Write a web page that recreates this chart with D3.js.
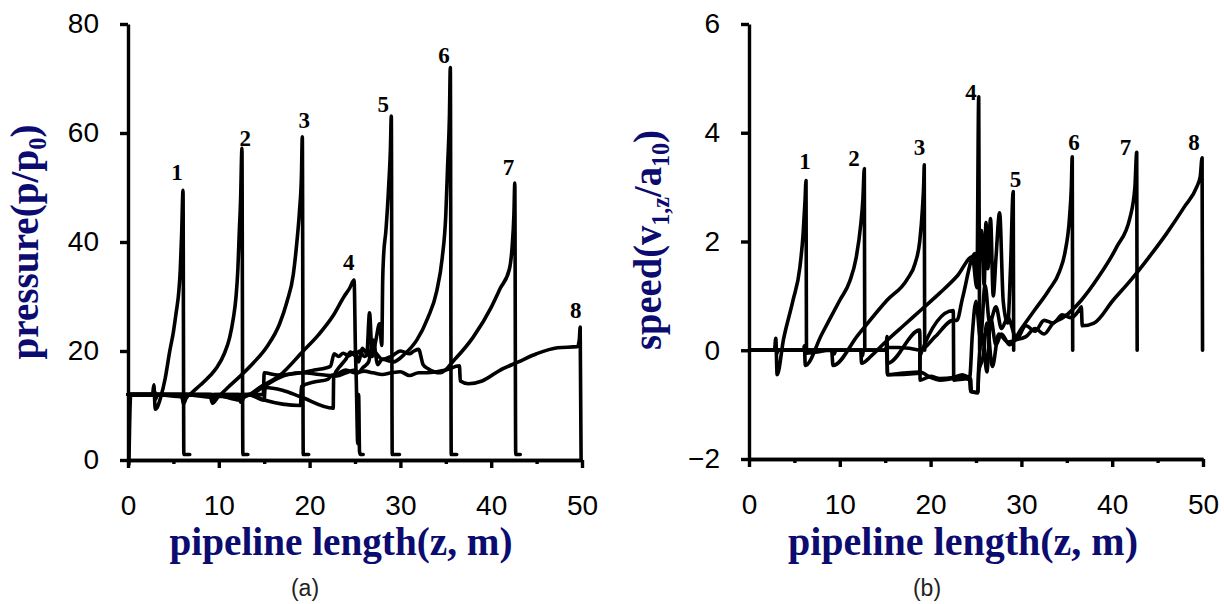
<!DOCTYPE html>
<html lang="en">
<head>
<meta charset="utf-8">
<title>Pressure and speed along the pipeline</title>
<script src="https://d3js.org/d3.v7.min.js"></script>
<style>
	body { margin: 0; background: #fff; }
	.axis path, .axis line { fill: none; stroke: #000; stroke-width: 3.4; }
	.axis text { font-family: "Liberation Sans", Arial, sans-serif; font-size: 28px; fill: #000; }
	.curve { fill: none; stroke: #000; stroke-width: 3.6; stroke-linejoin: round; stroke-linecap: round; }
	.title { font-family: "Liberation Serif", "Times New Roman", serif; font-weight: bold; font-size: 40px; fill: #0b0b70; }
	.tag { font-family: "Liberation Serif", "Times New Roman", serif; font-weight: bold; font-size: 23px; fill: #000; }
	.caption { font-family: "Liberation Sans", Arial, sans-serif; font-size: 23px; fill: #222; }
</style>
</head>
<body>
<script>
	// ---- data: [z (m), value] ----
	var zTicks = [0, 10, 20, 30, 40, 50];
	var zMinor = [5, 15, 25, 35, 45];
	var pressTicks = [0, 20, 40, 60, 80];
	var speedTicks = [-2, 0, 2, 4, 6];
	var curveNames = ["1", "2", "3", "4", "5", "6", "7", "8"];

	// pressure p/p0
	var press1 = [[0,12],[2.7,12],[2.85,13.8],[3.0,9.3],[3.2,9.6],[3.6,11.5],[4.1,15],[4.6,20],[5.0,23.5],[5.3,27],[5.6,31],[5.76,35],[5.91,41.6],[6.06,49.5],[6.15,1],[6.8,1]];
	var press2 = [[0,12],[2.8,12],[2.9,12.8],[3.05,11.2],[3.2,12],[5.9,12],[6.1,10.3],[6.4,11.3],[7.0,12.3],[8.0,13.8],[9.0,15.4],[9.8,17],[10.6,19.5],[11.2,22.5],[11.6,26],[11.9,30],[12.1,35],[12.25,41.6],[12.4,47.7],[12.55,57.2],[12.65,1],[13.2,1]];
	var press3 = [[0,12],[2.8,12],[2.9,12.6],[3.05,11.4],[3.2,12],[5.9,12],[6.1,10.8],[6.3,12],[9.0,12],[9.3,10.4],[9.9,11.5],[11,13.3],[12.3,15.3],[13.8,17.8],[15.3,20.8],[16.7,25],[17.5,29],[18.2,34],[18.6,40],[18.9,46],[19.1,52],[19.2,59.3],[19.3,1],[19.9,1]];
	var press4 = [[0,12],[2.9,12],[3.0,11.5],[3.1,12],[6.0,12],[6.1,11],[6.3,12],[9.2,12],[9.4,11],[9.7,12],[12.2,12],[12.4,10.6],[12.8,11.5],[13.4,12],[14.5,13.3],[16.7,15.5],[19.3,20],[21,23],[22.6,26.5],[23.8,30],[24.4,31.5],[24.9,33],[25.05,20],[25.15,14],[25.3,3],[25.4,12],[25.5,1.5],[25.6,1],[25.9,1]];
	var press5 = [[0,12],[3,12],[6.0,12],[6.1,11.5],[6.3,12],[9.3,11.5],[9.5,12],[12.3,11],[12.6,12],[14.9,12],[15.0,16],[16.5,15.6],[19,16],[20.5,16.5],[22.3,17.2],[22.7,19.5],[23.2,19],[23.7,19.6],[24.3,19.1],[25,19.8],[25.4,18],[25.8,20.5],[26.3,19.5],[26.6,27],[26.9,19],[27.3,22],[27.7,25],[27.95,21],[28.05,33],[28.15,37.5],[28.4,42],[28.7,50],[28.9,57],[29.0,63.1],[29.1,1],[29.9,1]];
	var press6 = [[0,12],[3,12],[6.1,11.6],[6.3,12],[12.4,11.5],[13.3,12],[15,11],[19,10],[19.1,13.5],[20.5,14.3],[22,14.8],[22.5,15.6],[23,15.4],[24,16],[25,16.5],[25.3,16],[25.9,17],[26.5,18],[27,22],[27.5,17.5],[28,18.5],[29.2,18],[30.5,19.5],[31.8,22],[33,26],[34,31],[34.6,37],[35.0,45],[35.2,54],[35.4,63],[35.5,72],[35.6,1],[36.2,1]];
	var press7 = [[0,12],[3,12],[12.4,11.8],[13.3,12],[15,11],[15.1,13.3],[17,12.8],[19,11.6],[22.6,9.5],[22.65,15.2],[23.5,17.5],[24,18.5],[24.5,19.8],[25,19.2],[25.5,20],[26,19],[27,20],[28,18.5],[29,19],[30,20],[31,19.5],[31.5,20],[32,20.3],[32.5,17.5],[33,16.8],[34.4,16],[36,18.5],[38,22.5],[40,28],[41,31.5],[42,35],[42.3,39],[42.5,45],[42.6,50.8],[42.7,1],[43.2,1]];
	var press8 = [[0.1,-0.8],[0.3,12],[3,12],[13.3,12],[15,13.5],[16.5,15],[19,16],[22.6,15.5],[24,16.5],[25,16],[26,16.3],[27,16],[28,15.7],[29,16],[30,16.2],[31,15.5],[32,16],[33,16],[34,16.2],[35,16.5],[36.5,17.3],[36.6,14.5],[37.5,14],[39,14.5],[41,16.5],[43,18],[45,19.5],[47.3,20.6],[49.5,20.8],[49.7,22],[49.8,24.4],[49.9,0]];

	// speed v1,z/a10
	var speed1 = [[0,0],[2.8,0],[2.95,0.22],[3.1,-0.45],[3.8,0.2],[4.85,0.92],[5.6,1.52],[5.96,2.14],[6.17,2.75],[6.28,3.12],[6.33,0]];
	var speed2 = [[0,0],[2.9,0],[3.0,0.06],[3.1,-0.05],[3.2,0],[6.0,0],[6.1,0.08],[6.2,-0.28],[8,0.29],[10,0.92],[11.1,1.27],[11.8,1.7],[12.3,2.3],[12.55,2.8],[12.7,3.34],[12.75,0]];
	var speed3 = [[0,0],[6.1,0],[6.2,0.05],[6.35,-0.05],[9.1,0],[9.25,-0.28],[12,0.28],[15.2,0.92],[17.4,1.3],[18.3,1.6],[18.8,2.0],[19.1,2.6],[19.25,3.1],[19.3,3.41],[19.35,0]];
	var speed4 = [[0,0],[6.2,0],[6.3,-0.06],[6.4,0],[9.3,0],[9.4,-0.07],[9.55,0],[12.3,0],[12.4,-0.24],[13.5,-0.1],[15.2,0.18],[17,0.45],[19,0.75],[21,1.05],[23,1.38],[24.6,1.72],[25.1,1.15],[25.3,4.66],[25.4,0]];
	var speed5 = [[0,0],[12.4,0],[12.5,-0.1],[12.6,0],[15.1,0],[15.2,0.25],[15.25,-0.24],[18.8,0.37],[18.85,0.0],[20.5,0.25],[22.5,0.55],[22.9,0.55],[23.5,0.95],[24.9,1.78],[25.2,1.3],[25.6,2.2],[25.9,1.2],[26.1,2.35],[26.3,1.5],[26.6,2.42],[26.9,1.0],[27.2,1.7],[27.6,2.53],[28.0,0.9],[28.5,0.5],[28.8,1.5],[29.1,2.92],[29.15,0]];
	var speed6 = [[0,0],[15.1,0],[15.2,-0.1],[15.25,-0.45],[18.8,-0.42],[18.85,-0.1],[22.5,0.73],[22.55,-0.55],[24.4,-0.52],[24.5,-0.76],[25.2,-0.78],[25.3,-0.3],[25.7,0.3],[26.2,-0.4],[26.6,0.6],[27.2,0.1],[27.8,0.3],[28.7,0.1],[30,0.4],[31.5,0.75],[33,1.1],[34.2,1.45],[34.8,1.8],[35.3,2.44],[35.5,3.0],[35.6,3.56],[35.65,0]];
	var speed7 = [[0,0],[14.9,0],[15.2,0.05],[16.5,0.05],[18.8,0],[18.85,-0.55],[20,-0.48],[21,-0.52],[22.5,-0.5],[23.5,-0.45],[24.3,-0.5],[24.6,0.3],[25.0,0.9],[25.5,0.2],[26.0,1.2],[26.5,0.5],[27.2,0.8],[27.8,0.4],[28.5,0.6],[29.5,0.2],[30.5,0.25],[31.5,0.4],[32.5,0.3],[33.5,0.5],[34.6,0.6],[36.6,0.92],[38.5,1.35],[40.5,1.9],[41.96,2.44],[42.5,3.0],[42.7,3.64],[42.75,0]];
	var speed8 = [[0,0],[15.1,0],[15.2,-0.05],[15.25,-0.45],[17,-0.42],[18.8,-0.4],[20,-0.5],[21,-0.55],[22.5,-0.52],[23.5,-0.5],[24.3,-0.55],[24.4,-0.76],[25.2,-0.78],[25.3,-0.4],[25.8,-0.1],[26.2,0.5],[26.8,-0.3],[27.5,0.3],[28.5,0.15],[29.5,0.2],[30.5,0.45],[31.5,0.35],[32.5,0.55],[33.5,0.5],[34.5,0.65],[35.5,0.6],[36.4,0.75],[36.6,0.8],[36.7,0.45],[38,0.5],[40.1,0.92],[42,1.28],[44,1.7],[46,2.15],[48,2.65],[49.3,3.0],[49.7,3.2],[49.9,3.54],[49.95,0]];

	// where the curve numbers sit, in data units
	var pressLabelAt = [[5.4,51.4],[12.9,57.6],[19.4,60.9],[24.3,34.9],[28.1,63.9],[34.8,72.8],[41.9,52.3],[49.3,26.1]];
	var speedLabelAt = [[6.17,3.34],[11.56,3.39],[18.78,3.6],[24.45,4.6],[29.35,3.01],[35.8,3.69],[41.46,3.6],[49.0,3.69]];

	var pressCurves = [press1, press2, press3, press4, press5, press6, press7, press8];
	var speedCurves = [speed1, speed2, speed3, speed4, speed5, speed6, speed7, speed8];

	var w = 1224, h = 604;
	var svg = d3.select("body").append("svg")
		.attr("width", w)
		.attr("height", h);

	// squeeze a text to a target length (keeps the look of the original)
	function fitLength(sel, target, prefix) {
		var len = sel.node().getBBox().width;
		var s = len > 0 ? target / len : 1;
		s = Math.max(0.8, Math.min(1.2, s));
		sel.attr("transform", prefix + " scale(" + s + ",1)");
	}

	function drawPanel(opt) {
		var x = d3.scaleLinear().domain([0, 50]).range([opt.left, opt.right]);
		var y = d3.scaleLinear().domain(opt.yDomain).range([opt.bottom, opt.top]);
		var g = svg.append("g");

		// curves first, axes on top
		var line = d3.line()
			.curve(d3.curveMonotoneX)
			.x(function(d){ return x(d[0]); })
			.y(function(d){ return y(d[1]); });

		g.selectAll("path.curve")
			.data(opt.curves)
			.enter()
			.append("path")
			.attr("class", "curve")
			.attr("d", line);

		g.append("g")
			.attr("class", "axis")
			.attr("transform", "translate(0," + opt.bottom + ")")
			.call(d3.axisBottom(x).tickValues(zMinor).tickSize(4).tickSizeOuter(0).tickFormat(""));

		var xa = g.append("g")
			.attr("class", "axis")
			.attr("transform", "translate(0," + opt.bottom + ")")
			.call(d3.axisBottom(x).tickValues(zTicks).tickSize(8).tickSizeOuter(0).tickPadding(27));
		xa.attr("font-size", null).attr("font-family", null);

		var ya = g.append("g")
			.attr("class", "axis")
			.attr("transform", "translate(" + opt.left + ",0)")
			.call(d3.axisLeft(y).tickValues(opt.yTicks).tickSize(8).tickSizeOuter(0).tickPadding(21));
		ya.attr("font-size", null).attr("font-family", null);

		// curve numbers
		g.selectAll("text.tag")
			.data(opt.labelAt)
			.enter()
			.append("text")
			.attr("class", "tag")
			.attr("text-anchor", "middle")
			.attr("x", function(d){ return x(d[0]); })
			.attr("y", function(d){ return y(d[1]); })
			.text(function(d, i){ return curveNames[i]; });

		// x title
		var xt = g.append("text")
			.attr("class", "title")
			.attr("text-anchor", "middle")
			.text("pipeline length(z, m)");
		fitLength(xt, opt.xTitleLen, "translate(" + opt.xTitleCenter + "," + opt.xTitleY + ")");

		// y title with subscripts
		var yt = g.append("text")
			.attr("class", "title")
			.attr("text-anchor", "middle");
		opt.yTitle.forEach(function(part){
			var t = yt.append("tspan").text(part[0]);
			if (part[1]) {
				t.attr("font-size", "25px").attr("dy", "8");
			} else if (part[2]) {
				t.attr("dy", "-8");
			}
		});
		fitLength(yt, opt.yTitleLen, "translate(" + opt.yTitleX + "," + opt.yTitleY + ") rotate(-90)");

		g.append("text")
			.attr("class", "caption")
			.attr("text-anchor", "middle")
			.attr("x", opt.captionX)
			.attr("y", 596)
			.text(opt.caption);
	}

	drawPanel({
		left: 128, right: 582, top: 24, bottom: 460,
		yDomain: [0, 80], yTicks: pressTicks,
		curves: pressCurves, labelAt: pressLabelAt,
		xTitleCenter: 341, xTitleY: 555, xTitleLen: 343,
		yTitle: [["pressure(p/p", false], ["0", true], [")", false, true]],
		yTitleX: 38, yTitleY: 242, yTitleLen: 235,
		caption: "(a)", captionX: 305
	});

	drawPanel({
		left: 749, right: 1203, top: 24, bottom: 459,
		yDomain: [-2, 6], yTicks: speedTicks,
		curves: speedCurves, labelAt: speedLabelAt,
		xTitleCenter: 963, xTitleY: 555, xTitleLen: 350,
		yTitle: [["speed(v", false], ["1,z", true], ["/a", false, true], ["10", true], [")", false, true]],
		yTitleX: 661, yTitleY: 240, yTitleLen: 220,
		caption: "(b)", captionX: 927
	});
</script>
</body>
</html>
